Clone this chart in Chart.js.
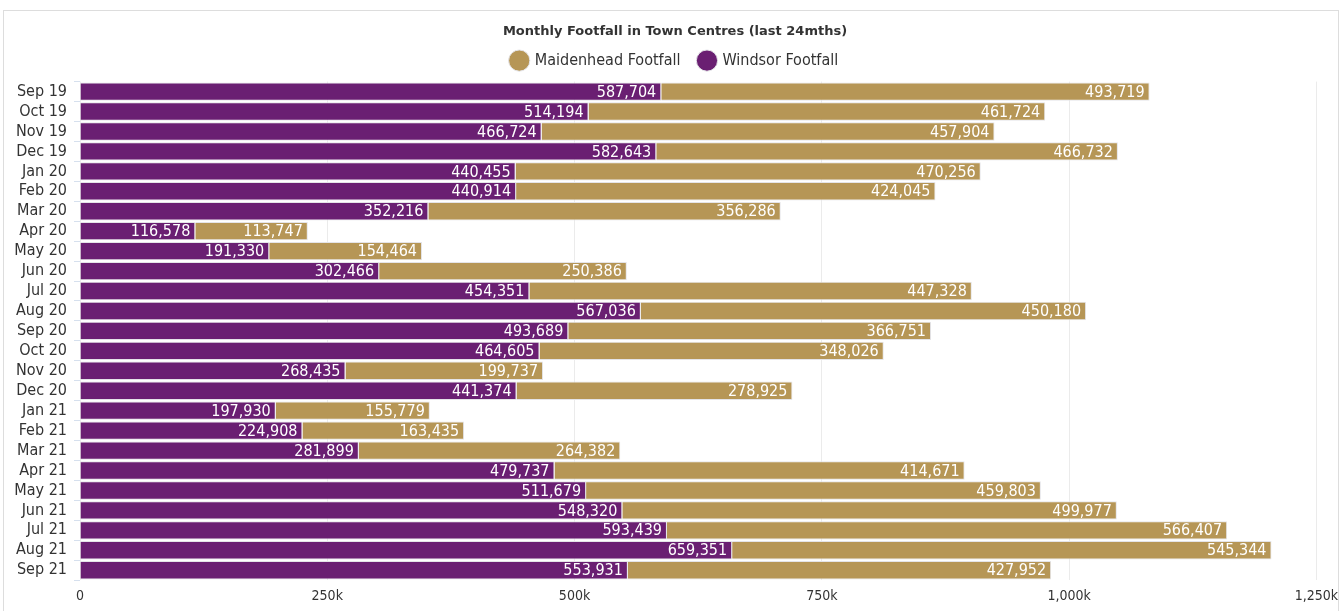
<!DOCTYPE html>
<html>
<head>
<meta charset="utf-8">
<script src="https://cdn.jsdelivr.net/npm/chart.js@4.4.1/dist/chart.umd.min.js"></script>
<style>
  body { margin: 0; background: #fff; overflow: hidden; }
  #box { position: absolute; left: 3px; top: 10px; width: 1334px; height: 604px; border: 1px solid #ddd; border-bottom: none; }
  #wrap { position: absolute; left: 4px; top: 11px; width: 1342px; height: 604px; }
  #wrap canvas { display: block; }
</style>
</head>
<body>
<div id="box"></div>
<div id="wrap"><canvas id="footfall"></canvas></div>
<script>
// months shown on the y axis (top to bottom)
var months = ["Sep 19","Oct 19","Nov 19","Dec 19","Jan 20","Feb 20","Mar 20","Apr 20","May 20","Jun 20",
  "Jul 20","Aug 20","Sep 20","Oct 20","Nov 20","Dec 20","Jan 21","Feb 21","Mar 21","Apr 21",
  "May 21","Jun 21","Jul 21","Aug 21","Sep 21"];
var windsor = [587704,514194,466724,582643,440455,440914,352216,116578,191330,302466,
  454351,567036,493689,464605,268435,441374,197930,224908,281899,479737,
  511679,548320,593439,659351,553931];
var maidenhead = [493719,461724,457904,466732,470256,424045,356286,113747,154464,250386,
  447328,450180,366751,348026,199737,278925,155779,163435,264382,414671,
  459803,499977,566407,545344,427952];
var xTicks = [0, 250000, 500000, 750000, 1000000, 1250000];

var FONT = "'DejaVu Sans Condensed', 'DejaVu Sans', sans-serif";
var PURPLE = "#6a1f72";
var GOLD = "#b69656";

// white value label at the right end of every bar
var barLabels = {
  id: 'barLabels',
  afterDatasetsDraw: function(chart){
    var ctx = chart.ctx;
    ctx.save();
    ctx.font = "16px " + FONT;
    ctx.fillStyle = "#fff";
    ctx.textAlign = "right";
    ctx.textBaseline = "middle";
    chart.data.datasets.forEach(function(ds, i){
      chart.getDatasetMeta(i).data.forEach(function(bar, j){
        ctx.fillText(ds.data[j].toLocaleString('en-GB'), bar.x - 5, bar.y + 1);
      });
    });
    ctx.restore();
  }
};

// a bit more room under the legend
var legendGap = {
  id: 'legendGap',
  beforeLayout: function(chart){
    var lg = chart.legend;
    if(lg && !lg._gap){
      var fit = lg.fit;
      lg.fit = function(){ fit.call(this); this.height += 3; };
      lg._gap = true;
    }
  }
};

new Chart(document.getElementById("footfall"), {
  type: 'bar',
  data: {
    labels: months,
    datasets: [
      { label: "Windsor Footfall", data: windsor, backgroundColor: PURPLE, borderColor: "#e4e4e8", borderWidth: 1 },
      { label: "Maidenhead Footfall", data: maidenhead, backgroundColor: GOLD, borderColor: "#e4e4e8", borderWidth: 1 }
    ]
  },
  options: {
    indexAxis: 'y',
    responsive: true,
    maintainAspectRatio: false,
    animation: false,
    layout: { padding: { top: 9, right: 0, bottom: 2, left: 0 } },
    datasets: { bar: { categoryPercentage: 0.92, barPercentage: 1 } },
    plugins: {
      title: {
        display: true,
        text: "Monthly Footfall in Town Centres (last 24mths)",
        color: "#333",
        font: { family: "'DejaVu Sans', sans-serif", size: 13, weight: 'bold' },
        padding: { top: 4, bottom: -6 }
      },
      legend: {
        reverse: true,
        labels: {
          usePointStyle: true,
          pointStyle: 'circle',
          boxWidth: 15,
          boxHeight: 15,
          color: "#333",
          font: { family: FONT, size: 16 },
          padding: 19
        }
      },
      tooltip: { enabled: false }
    },
    scales: {
      x: {
        stacked: true,
        min: 0,
        max: 1250000,
        afterBuildTicks: function(scale){ scale.ticks = xTicks.map(function(v){ return { value: v }; }); },
        ticks: {
          color: "#333",
          font: { family: FONT, size: 14 },
          padding: 8,
          callback: function(v){ return v === 0 ? "0" : (v / 1000).toLocaleString('en-GB') + "k"; }
        },
        grid: { color: "#ebebeb", drawTicks: false },
        border: { display: false }
      },
      y: {
        stacked: true,
        afterFit: function(scale){ scale.width = 76; },
        ticks: { color: "#333", font: { family: FONT, size: 16 }, padding: 7, autoSkip: false },
        grid: { drawOnChartArea: false, color: "#d6e0ee", tickLength: 6 },
        border: { display: false }
      }
    }
  },
  plugins: [barLabels, legendGap]
});
</script>
</body>
</html>
